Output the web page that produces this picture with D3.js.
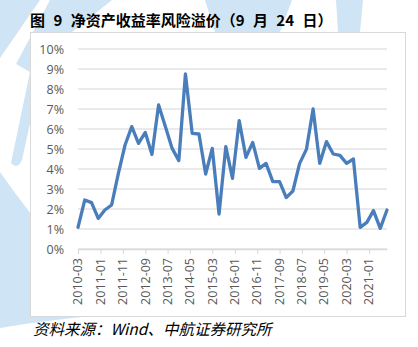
<!DOCTYPE html>
<html>
<head>
<meta charset="utf-8">
<script src="https://cdn.jsdelivr.net/npm/d3@7/dist/d3.min.js"></script>
<style>
  html, body { margin: 0; padding: 0; background: #fff; }
  svg { display: block; }
</style>
</head>
<body>
<svg id="chart" width="418" height="347"></svg>
<script>
// Quarterly observations of the ROE risk premium (%)
const dates = [
  "2010-03","2010-06","2010-09","2010-12",
  "2011-03","2011-06","2011-09","2011-12",
  "2012-03","2012-06","2012-09","2012-12",
  "2013-03","2013-06","2013-09","2013-12",
  "2014-03","2014-06","2014-09","2014-12",
  "2015-03","2015-06","2015-09","2015-12",
  "2016-03","2016-06","2016-09","2016-12",
  "2017-03","2017-06","2017-09","2017-12",
  "2018-03","2018-06","2018-09","2018-12",
  "2019-03","2019-06","2019-09","2019-12",
  "2020-03","2020-06","2020-09","2020-12",
  "2021-03","2021-06","2021-09"
];
const premium = [
  1.08, 2.45, 2.32, 1.53,
  1.95, 2.20, 3.78, 5.20,
  6.12, 5.28, 5.83, 4.73,
  7.20, 6.12, 5.03, 4.42,
  8.75, 5.78, 5.75, 3.75,
  5.03, 1.75, 5.12, 3.53,
  6.42, 4.58, 5.33, 4.03,
  4.28, 3.37, 3.37, 2.57,
  2.90, 4.28, 4.98, 7.00,
  4.28, 5.37, 4.75, 4.68,
  4.28, 4.50, 1.08, 1.33,
  1.92, 1.03, 1.95
];
const xTickLabels = [
  "2010-03","2011-01","2011-11","2012-09","2013-07","2014-05","2015-03",
  "2016-01","2016-11","2017-09","2018-07","2019-05","2020-03","2021-01"
];
const yTicks = [0, 1, 2, 3, 4, 5, 6, 7, 8, 9, 10];
const titleText = "图 9 净资产收益率风险溢价（9 月 24 日）";
const sourceText = "资料来源：Wind、中航证券研究所";

const parseMonth = d3.utcParse("%Y-%m");
const fmtMonth = d3.utcFormat("%Y-%m");
const series = dates.map((d, i) => ({ date: parseMonth(d), value: premium[i] }));

const svg = d3.select("#chart");

// Faint company watermark behind the frame
const wm = svg.append("g").attr("fill", "#cfe4f4");
wm.append("path").attr("d", "M0,0 L40,0 L0,58 Z");
wm.append("path").attr("d", "M50,0 L112,0 L62,40 L40,78 L22,160 Q17,170 11,163 L30,72 L16,64 Z");
wm.append("path").attr("d", "M0,172 Q30,215 70,262 L150,312 Q70,316 0,328 Z");
wm.append("path").attr("d", "M205,0 L292,0 L280,32 L215,32 Z");
wm.append("path").attr("d", "M336,0 L363,0 L360,32 L338,32 Z");

// Title
svg.append("text")
  .attr("x", 30).attr("y", 26)
  .attr("font-family", "'Noto Sans CJK SC', sans-serif")
  .attr("font-weight", "bold")
  .attr("font-size", 15)
  .style("word-spacing", "5px")
  .attr("fill", "#000")
  .text(titleText);

// Chart frame
svg.append("rect")
  .attr("x", 30.5).attr("y", 32.5)
  .attr("width", 375).attr("height", 284)
  .attr("fill", "#fff")
  .attr("stroke", "#d9d9d9");

const x = d3.scaleUtc()
  .domain([parseMonth(dates[0]), parseMonth(dates[dates.length - 1])])
  .range([78, 387]);
const y = d3.scaleLinear().domain([0, 10]).range([249, 49]);

// Horizontal gridlines
svg.append("g")
  .selectAll("line")
  .data(yTicks)
  .join("line")
  .attr("x1", 78).attr("x2", 387)
  .attr("y1", d => y(d)).attr("y2", d => y(d))
  .attr("stroke", "#e3e3e3")
  .attr("stroke-width", 1.5);

// Y axis labels
const yAxis = d3.axisLeft(y)
  .tickValues(yTicks)
  .tickFormat(d => d + "%")
  .tickSize(0)
  .tickPadding(0);
const gy = svg.append("g").attr("transform", "translate(64,0)").call(yAxis);
gy.select(".domain").remove();
gy.selectAll("text")
  .attr("font-family", "'Open Sans', sans-serif")
  .attr("font-size", 12.5)
  .attr("fill", "#595959");

// X axis with rotated date labels
const xAxis = d3.axisBottom(x)
  .tickValues(xTickLabels.map(parseMonth))
  .tickFormat(fmtMonth)
  .tickSize(5)
  .tickSizeOuter(0);
const gx = svg.append("g").attr("transform", "translate(0,249)").call(xAxis);
gx.select(".domain").attr("stroke", "#d9d9d9").attr("stroke-width", 1.5);
gx.selectAll(".tick line").attr("stroke", "#d9d9d9");
gx.selectAll("text")
  .attr("font-family", "'Open Sans', sans-serif")
  .attr("font-size", 12.5)
  .attr("fill", "#595959")
  .attr("text-anchor", "end")
  .attr("transform", "rotate(-90)")
  .attr("x", -9)
  .attr("y", 0)
  .attr("dy", "0.3em");

// Premium line
const line = d3.line()
  .x(d => x(d.date))
  .y(d => y(d.value));
svg.append("path")
  .datum(series)
  .attr("d", line)
  .attr("fill", "none")
  .attr("stroke", "#4a7ebb")
  .attr("stroke-width", 3.3)
  .attr("stroke-linejoin", "round")
  .attr("stroke-linecap", "round");

// Source note
svg.append("text")
  .attr("x", 33).attr("y", 335)
  .attr("font-family", "'Noto Sans CJK SC', sans-serif")
  .attr("font-style", "italic")
  .attr("font-size", 15.5)
  .attr("fill", "#000")
  .text(sourceText);
</script>
</body>
</html>
